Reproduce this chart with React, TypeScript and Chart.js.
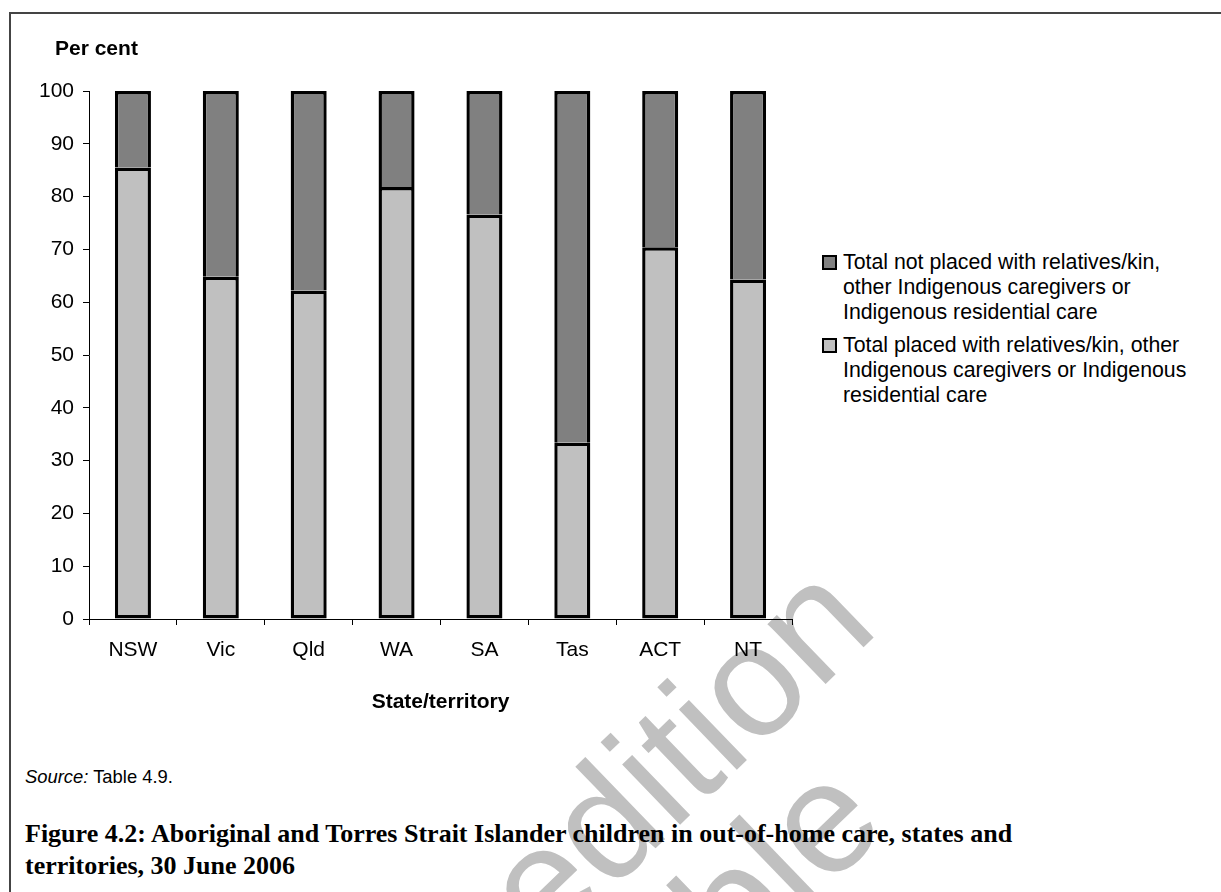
import React, { useEffect, useRef } from "react";
import { Chart, registerables } from "chart.js";

Chart.register(...registerables);

const FONT = "'Liberation Sans', Arial, sans-serif";
Chart.defaults.font.family = FONT;

const categories = ["NSW", "Vic", "Qld", "WA", "SA", "Tas", "ACT", "NT"];
const placedValues = [85.5, 64.8, 62.2, 81.8, 76.6, 33.4, 70.4, 64.3];
const notPlacedValues = [14.5, 35.2, 37.8, 18.2, 23.4, 66.6, 29.6, 35.7];
const yMin = 0;
const yMax = 100;
const yStep = 10;

const notPlacedLabel = [
  "Total not placed with relatives/kin,",
  "other Indigenous caregivers or",
  "Indigenous residential care",
];
const placedLabel = [
  "Total placed with relatives/kin, other",
  "Indigenous caregivers or Indigenous",
  "residential care",
];
const yAxisTitle = "Per cent";
const xAxisTitle = "State/territory";
const titleLines = [
  "Figure 4.2: Aboriginal and Torres Strait Islander children in out-of-home care, states and",
  "territories, 30 June 2006",
];

const DARK = "#808080";
const LIGHT = "#c0c0c0";
const BW = 3.4;

export default function App() {
  const ref = useRef<HTMLCanvasElement>(null);

  useEffect(() => {
    if (!ref.current) return;
    const chart = new Chart(ref.current, {
      type: "bar",
      data: {
        labels: categories,
        datasets: [
          {
            label: placedLabel.join(" "),
            data: placedValues,
            backgroundColor: LIGHT,
            borderColor: "#000",
            borderWidth: { top: BW, bottom: BW, left: BW, right: BW },
            borderSkipped: false,
            barPercentage: 0.41,
            categoryPercentage: 1,
          },
          {
            label: notPlacedLabel.join(" "),
            data: notPlacedValues,
            backgroundColor: DARK,
            borderColor: "#000",
            borderWidth: { top: BW, bottom: 0, left: BW, right: BW },
            borderSkipped: false,
            barPercentage: 0.41,
            categoryPercentage: 1,
          },
        ],
      },
      options: {
        responsive: false,
        animation: false,
        devicePixelRatio: 1,
        layout: { padding: { top: 91, left: 0, right: 28, bottom: 25 } },
        plugins: {
          legend: { display: false },
          tooltip: { enabled: false },
        },
        scales: {
          x: {
            stacked: true,
            grid: {
              display: true,
              drawOnChartArea: false,
              drawTicks: true,
              tickLength: 6,
              color: "#000",
              offset: true,
            },
            border: { display: true, color: "#000", width: 1 },
            ticks: {
              color: "#000",
              font: { size: 21, family: FONT },
              padding: 13,
              maxRotation: 0,
            },
            title: {
              display: true,
              text: xAxisTitle,
              color: "#000",
              font: { size: 21, weight: "bold", family: FONT },
              padding: { top: 0, bottom: 0 },
            },
            afterFit: (s: any) => {
              s.height = 96;
            },
          },
          y: {
            stacked: true,
            min: yMin,
            max: yMax,
            grid: {
              display: true,
              drawOnChartArea: false,
              drawTicks: true,
              tickLength: 6,
              color: "#000",
            },
            border: { display: true, color: "#000", width: 1 },
            ticks: {
              stepSize: yStep,
              color: "#000",
              font: { size: 21, family: FONT },
              padding: 9,
            },
            afterFit: (s: any) => {
              s.width = 89;
            },
          },
        },
      },
    });
    return () => chart.destroy();
  }, []);

  const legendItems = [
    { color: DARK, lines: notPlacedLabel, top: 250, box: 255 },
    { color: LIGHT, lines: placedLabel, top: 333, box: 338 },
  ];

  return (
    <div
      style={{
        position: "fixed",
        left: 0,
        top: 0,
        width: 1221,
        height: 892,
        overflow: "hidden",
        background: "#fff",
        fontFamily: FONT,
        color: "#000",
      }}
    >
      <svg
        width={1221}
        height={892}
        style={{ position: "absolute", left: 0, top: 0 }}
      >
        <text
          x={546}
          y={954}
          transform="rotate(-44 546 954)"
          fontSize={158}
          fill="#c0c0c0"
          fontFamily={FONT}
        >
          edition
        </text>
        <text
          x={738}
          y={975}
          transform="rotate(-44 738 975)"
          fontSize={158}
          fill="#c0c0c0"
          fontFamily={FONT}
        >
          ble
        </text>
      </svg>
      <div
        style={{
          position: "absolute",
          left: 9,
          top: 12,
          width: 1212,
          height: 2,
          background: "#444",
        }}
      />
      <div
        style={{
          position: "absolute",
          left: 9,
          top: 12,
          width: 2,
          height: 880,
          background: "#444",
        }}
      />
      <canvas
        ref={ref}
        width={820}
        height={740}
        style={{ position: "absolute", left: 0, top: 0, width: 820, height: 740 }}
      />
      <div
        style={{
          position: "absolute",
          left: 55,
          top: 36,
          fontSize: 21,
          lineHeight: "24px",
          fontWeight: "bold",
          whiteSpace: "nowrap",
        }}
      >
        {yAxisTitle}
      </div>
      {legendItems.map((it, i) => (
        <React.Fragment key={i}>
          <div
            style={{
              position: "absolute",
              left: 822,
              top: it.box,
              width: 15,
              height: 15,
              boxSizing: "border-box",
              border: "2px solid #000",
              background: it.color,
            }}
          />
          <div
            style={{
              position: "absolute",
              left: 843,
              top: it.top,
              fontSize: 21.3,
              lineHeight: "25px",
              whiteSpace: "nowrap",
            }}
          >
            {it.lines.map((l, j) => (
              <div key={j}>{l}</div>
            ))}
          </div>
        </React.Fragment>
      ))}
      <div
        style={{
          position: "absolute",
          left: 25,
          top: 766,
          fontSize: 18.4,
          lineHeight: "22px",
          whiteSpace: "nowrap",
        }}
      >
        <i>Source:</i> Table 4.9.
      </div>
      <div
        style={{
          position: "absolute",
          left: 25,
          top: 818,
          fontFamily: "'Liberation Serif', 'Times New Roman', serif",
          fontWeight: "bold",
          fontSize: 26,
          lineHeight: "32px",
          whiteSpace: "nowrap",
        }}
      >
        {titleLines.map((l, j) => (
          <div key={j}>{l}</div>
        ))}
      </div>
    </div>
  );
}
